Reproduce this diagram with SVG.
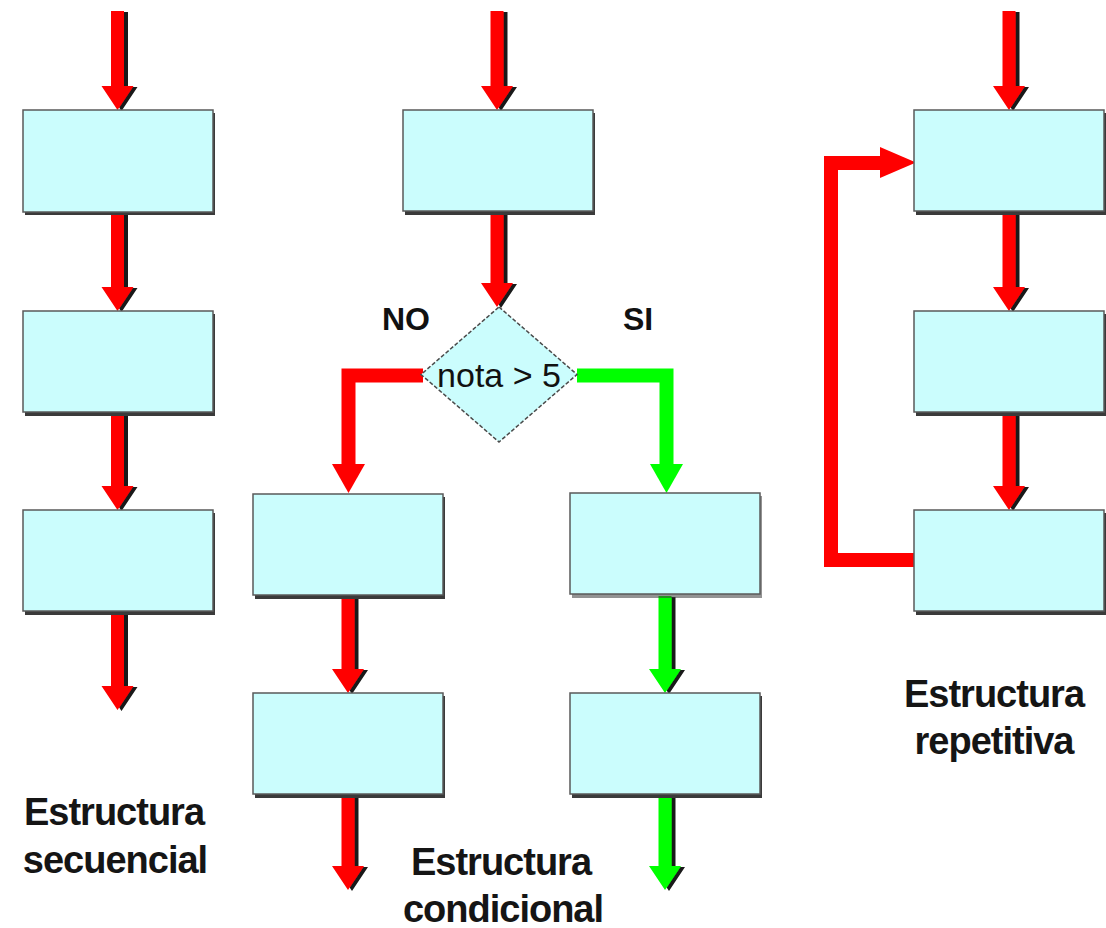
<svg xmlns="http://www.w3.org/2000/svg" width="1106" height="928" viewBox="0 0 1106 928">
  <defs>
    <style>
      .box { fill: #CBFDFD; stroke: #5a5a5a; stroke-width: 1.5; }
      .boxshadow { fill: #3a3a3a; }
      .flow-red { fill: #FF0000; }
      .flow-green { fill: #00FF00; }
      .branch-red { fill: none; stroke: #FF0000; stroke-width: 14; }
      .branch-green { fill: none; stroke: #00FF00; stroke-width: 14; }
      .cond { fill: #CBFDFD; stroke: #4a4a4a; stroke-width: 1.5; stroke-dasharray: 4 2; }
      .yesno { font-family: "Liberation Sans", Arial, sans-serif; font-weight: bold; font-size: 32px; fill: #111; }
      .condtext { font-family: "Liberation Sans", Arial, sans-serif; font-size: 34px; fill: #111; text-anchor: middle; }
      .title { font-family: "Liberation Sans", Arial, sans-serif; font-weight: bold; font-size: 38px; letter-spacing: -1px; fill: #151515; text-anchor: middle; }
    </style>
    <filter id="arrowShadow" x="-50%" y="-10%" width="200%" height="120%">
      <feDropShadow dx="4" dy="1" stdDeviation="0.6" flood-color="#000" flood-opacity="0.9"/>
    </filter>
  </defs>

  <rect width="1106" height="928" fill="#FFFFFF"/>

  <!-- Flow arrows -->
  <g id="connectors">
    <g filter="url(#arrowShadow)">
      <!-- sequential column -->
      <polygon class="flow-red" points="111,11 124,11 124,86 133.5,86 117.5,110 101.5,86 111,86"/>
      <polygon class="flow-red" points="111,213 124,213 124,287 133.5,287 117.5,311 101.5,287 111,287"/>
      <polygon class="flow-red" points="111,413 124,413 124,486 133.5,486 117.5,510 101.5,486 111,486"/>
      <polygon class="flow-red" points="111,612 124,612 124,686 133.5,686 117.5,710 101.5,686 111,686"/>
      <!-- conditional column: entry -->
      <polygon class="flow-red" points="490.5,11 503.5,11 503.5,86 513,86 497,110 481,86 490.5,86"/>
      <polygon class="flow-red" points="490.5,213 503.5,213 503.5,283 513,283 497,307 481,283 490.5,283"/>
      <!-- NO branch -->
      <polygon class="flow-red" points="341.5,597 354.5,597 354.5,669 364,669 348,693 332,669 341.5,669"/>
      <polygon class="flow-red" points="341.5,797 354.5,797 354.5,866 364,866 348,890 332,866 341.5,866"/>
      <!-- SI branch -->
      <polygon class="flow-green" points="658.5,596 671.5,596 671.5,669 681,669 665,693 649,669 658.5,669"/>
      <polygon class="flow-green" points="658.5,796 671.5,796 671.5,866 681,866 665,890 649,866 658.5,866"/>
      <!-- repetitive column -->
      <polygon class="flow-red" points="1002.5,11 1015.5,11 1015.5,86 1025,86 1009,110 993,86 1002.5,86"/>
      <polygon class="flow-red" points="1002.5,213 1015.5,213 1015.5,287 1025,287 1009,311 993,287 1002.5,287"/>
      <polygon class="flow-red" points="1002.5,413 1015.5,413 1015.5,486 1025,486 1009,510 993,486 1002.5,486"/>
    </g>

    <!-- decision outlets -->
    <path class="branch-red" d="M 423,375.5 H 348.5 V 466"/>
    <polygon class="flow-red" points="332,464 365,464 348.5,493"/>
    <path class="branch-green" d="M 577,375.5 H 666.5 V 466"/>
    <polygon class="flow-green" points="650,464 683,464 666.5,493"/>

    <!-- loop back -->
    <path class="branch-red" d="M 914,560 H 831 V 163 H 884"/>
    <polygon class="flow-red" points="880,147 916,162.5 880,178"/>

    <text class="yesno" x="382" y="330">NO</text>
    <text class="yesno" x="623" y="330">SI</text>
  </g>

  <!-- Sequential structure -->
  <g id="seq-1"><rect class="boxshadow" x="25" y="113" width="190" height="102"/><rect class="box" x="23" y="110" width="190" height="102"/></g>
  <g id="seq-2"><rect class="boxshadow" x="25" y="314" width="190" height="102"/><rect class="box" x="23" y="311" width="190" height="101"/></g>
  <g id="seq-3"><rect class="boxshadow" x="25" y="513" width="190" height="102"/><rect class="box" x="23" y="510" width="190" height="101"/></g>

  <!-- Conditional structure -->
  <g id="cond-start"><rect class="boxshadow" x="405" y="113" width="190" height="102"/><rect class="box" x="403" y="110" width="190" height="101"/></g>
  <g id="cond-decision">
    <polygon class="cond" points="499,307 577,374.5 499,442 421,374.5"/>
    <text class="condtext" x="499" y="387">nota &gt; 5</text>
  </g>
  <g id="cond-no-1"><rect class="boxshadow" x="255" y="497" width="190" height="102"/><rect class="box" x="253" y="494" width="190" height="101"/></g>
  <g id="cond-no-2"><rect class="boxshadow" x="255" y="696" width="190" height="102"/><rect class="box" x="253" y="693" width="190" height="101"/></g>
  <g id="cond-yes-1"><rect class="boxshadow" x="572" y="496" width="190" height="102" opacity="0.55"/><rect class="box" x="570" y="493" width="190" height="101"/></g>
  <g id="cond-yes-2"><rect class="boxshadow" x="572" y="696" width="190" height="102"/><rect class="box" x="570" y="693" width="190" height="101"/></g>

  <!-- Repetitive structure -->
  <g id="rep-1"><rect class="boxshadow" x="916" y="113" width="190" height="102"/><rect class="box" x="914" y="110" width="190" height="101"/></g>
  <g id="rep-2"><rect class="boxshadow" x="916" y="314" width="190" height="102"/><rect class="box" x="914" y="311" width="190" height="101"/></g>
  <g id="rep-3"><rect class="boxshadow" x="916" y="513" width="190" height="102"/><rect class="box" x="914" y="510" width="190" height="101"/></g>

  <!-- Captions -->
  <g id="captions">
    <text class="title" x="114" y="825">Estructura</text>
    <text class="title" x="115" y="873">secuencial</text>
    <text class="title" x="501" y="875">Estructura</text>
    <text class="title" x="503" y="922">condicional</text>
    <text class="title" x="994" y="707">Estructura</text>
    <text class="title" x="994" y="754">repetitiva</text>
  </g>
</svg>
